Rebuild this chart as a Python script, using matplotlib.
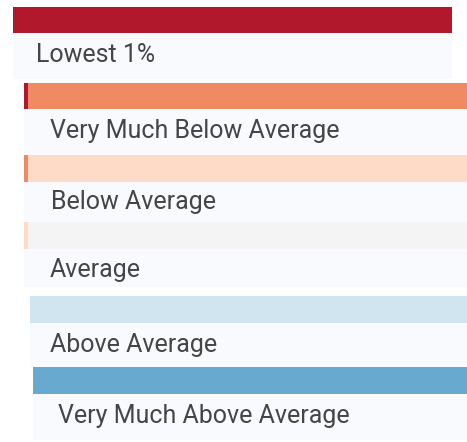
import matplotlib
matplotlib.use("Agg")
import matplotlib.pyplot as plt

# legend categories and their colours (RdBu-style scale)
labels = ["Lowest 1%", "Very Much Below Average", "Below Average",
          "Average", "Above Average", "Very Much Above Average"]
colors = ["#b2182b", "#ef8a62", "#fddbc7", "#f4f4f4", "#d1e5f0", "#67a9cf"]

# layout of each card (pixels): left, right, bar top, bar bottom, panel bottom, text x, baseline
left = [13, 24, 24, 24, 30, 33]
right = [452, 467, 467, 467, 467, 467]
bar_top = [7, 83, 155, 222, 296, 367]
bar_bot = [33, 109, 182, 249, 323, 394]
panel_bot = [79, 155, 222, 287, 367, 440]
text_x = [36, 50, 51, 50, 50, 58]
baseline = [62, 138, 209, 277, 352, 423]

plt.rcParams['font.family'] = ['Roboto', 'DejaVu Sans']

fig = plt.figure(figsize=(4.67, 4.42), dpi=100)
ax = fig.add_axes([0, 0, 1, 1])
ax.set_xlim(0, 467)
ax.set_ylim(442, 0)
ax.axis('off')

panel_color = "#f9fafd"
for i, (lab, col) in enumerate(zip(labels, colors)):
    w = right[i] - left[i]
    # light panel behind the label
    ax.barh(bar_bot[i], w, height=panel_bot[i] - bar_bot[i], left=left[i],
            align='edge', color=panel_color, linewidth=0)
    # coloured header bar
    ax.barh(bar_top[i], w, height=bar_bot[i] - bar_top[i], left=left[i],
            align='edge', color=col, linewidth=0)
    # stripe of the previous colour on the left edge
    if 0 < i < 4:
        ax.barh(bar_top[i], 4, height=bar_bot[i] - bar_top[i], left=left[i],
                align='edge', color=colors[i - 1], linewidth=0)
    ax.text(text_x[i], baseline[i], lab, fontsize=18, color="#454545",
            va='baseline', ha='left')

fig.savefig("out.png", dpi=100)
